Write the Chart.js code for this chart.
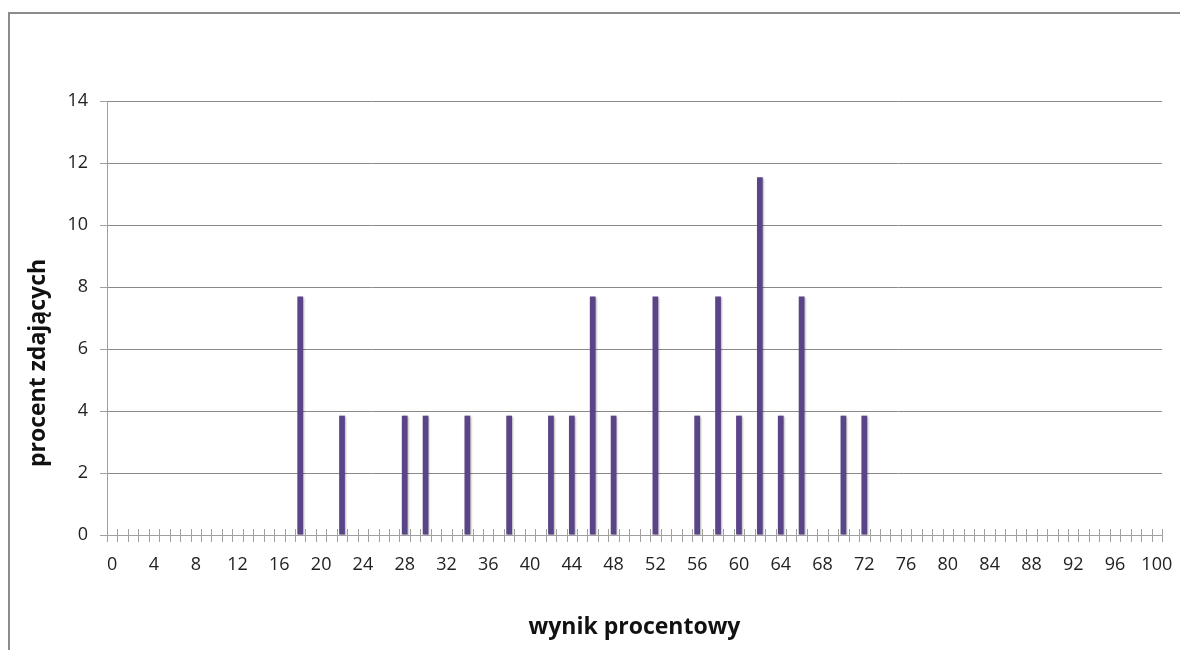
<!DOCTYPE html>
<html><head><meta charset="utf-8">
<script src="https://cdn.jsdelivr.net/npm/chart.js@4/dist/chart.umd.min.js"></script>
<style>
html,body{margin:0;padding:0;background:#fff;overflow:hidden}
#wrap{position:absolute;left:0;top:0;width:1180px;height:650px}
#frame{position:absolute;left:8px;top:12px;width:1180px;height:700px;border:2px solid #8c8c8c;box-sizing:border-box}
canvas{position:absolute;left:0;top:0}
</style></head><body>
<div id="wrap"><div id="frame"></div><canvas id="c" width="1180" height="650"></canvas></div>
<script>
const categories = ['0','1','2','3','4','5','6','7','8','9','10','11','12','13','14','15','16','17','18','19','20','21','22','23','24','25','26','27','28','29','30','31','32','33','34','35','36','37','38','39','40','41','42','43','44','45','46','47','48','49','50','51','52','53','54','55','56','57','58','59','60','61','62','63','64','65','66','67','68','69','70','71','72','73','74','75','76','77','78','79','80','81','82','83','84','85','86','87','88','89','90','91','92','93','94','95','96','97','98','99','100'];
// scores with non-zero share (percent of candidates)
const scores = ['18','22','28','30','34','38','42','44','46','48','52','56','58','60','62','64','66','70','72'];
const shares = [7.69,3.85,3.85,3.85,3.85,3.85,3.85,3.85,7.69,3.85,7.69,3.85,7.69,3.85,11.54,3.85,7.69,3.85,3.85];
const labelStep = 4;
const yTitle = 'procent zdających';
const xTitle = 'wynik procentowy';

const values = categories.map(c => { const i = scores.indexOf(c); return i >= 0 ? shares[i] : 0; });

const crossTicks = {
  id: 'crossTicks',
  afterDraw(chart) {
    const xs = chart.scales.x, ctx = chart.ctx, y0 = chart.chartArea.bottom;
    const step = xs.getPixelForValue(1) - xs.getPixelForValue(0);
    ctx.save();
    ctx.strokeStyle = '#a0a0a0'; ctx.lineWidth = 1;
    for (let i = 0; i <= categories.length; i++) {
      const px = xs.getPixelForValue(0) - step / 2 + i * step;
      const x = Math.round(px) + 0.5;
      ctx.beginPath(); ctx.moveTo(x, y0 - 6); ctx.lineTo(x, y0 + 7); ctx.stroke();
    }
    ctx.beginPath(); ctx.moveTo(chart.chartArea.left, y0 + 0.5); ctx.lineTo(chart.chartArea.right, y0 + 0.5); ctx.stroke();
    ctx.restore();
  }
};

// Y axis title, placed like the original (slightly below the axis centre)
const yTitlePlugin = {
  id: 'yTitlePlugin',
  afterDraw(chart) {
    const ctx = chart.ctx, a = chart.chartArea;
    ctx.save();
    ctx.translate(38, (a.top + a.bottom) / 2 + 45);
    ctx.rotate(-Math.PI / 2);
    ctx.font = 'bold 23px "Open Sans"';
    ctx.fillStyle = '#111';
    ctx.textAlign = 'center'; ctx.textBaseline = 'middle';
    ctx.fillText(yTitle, 0, 0);
    ctx.restore();
  }
};

const barShadow = {
  id: 'barShadow',
  beforeDatasetsDraw(chart) { const c = chart.ctx; c.save(); c.shadowColor = 'rgba(0,0,0,0.3)'; c.shadowBlur = 2; c.shadowOffsetX = 1; c.shadowOffsetY = 1; },
  afterDatasetsDraw(chart) { chart.ctx.restore(); }
};

new Chart(document.getElementById('c'), {
  type: 'bar',
  data: { labels: categories, datasets: [{ data: values, backgroundColor: '#5b4589', borderWidth: 0, barPercentage: 0.55, categoryPercentage: 1.0 }] },
  options: {
    responsive: false, animation: false, devicePixelRatio: 1,
    layout: { padding: { left: 0, top: 101, right: 18, bottom: 0 } },
    plugins: { legend: { display: false }, tooltip: { enabled: false } },
    scales: {
      x: {
        afterFit(s) { s.height = 115; s.paddingRight = 0; s.paddingLeft = 0; },
        grid: { display: false, offset: true },
        border: { display: false },
        ticks: { autoSkip: false, maxRotation: 0, color: '#222', padding: 11, font: { family: 'Open Sans', size: 18 },
          callback(v) { const l = categories[v]; return Number(l) % labelStep === 0 ? l : ''; } },
        title: { display: true, text: xTitle, color: '#111', font: { family: 'Open Sans', size: 23, weight: 'bold' }, padding: { top: 0, bottom: 9 } }
      },
      y: {
        min: 0, max: 14,
        afterFit(s) { s.width = 107; },
        grid: { color: '#8a8a8a', tickLength: 7, tickColor: '#a0a0a0' },
        border: { color: '#a0a0a0' },
        ticks: { stepSize: 2, color: '#222', padding: 12, font: { family: 'Open Sans', size: 18 } },
        title: { display: false }
      }
    }
  },
  plugins: [barShadow, crossTicks, yTitlePlugin]
});
</script>
</body></html>
